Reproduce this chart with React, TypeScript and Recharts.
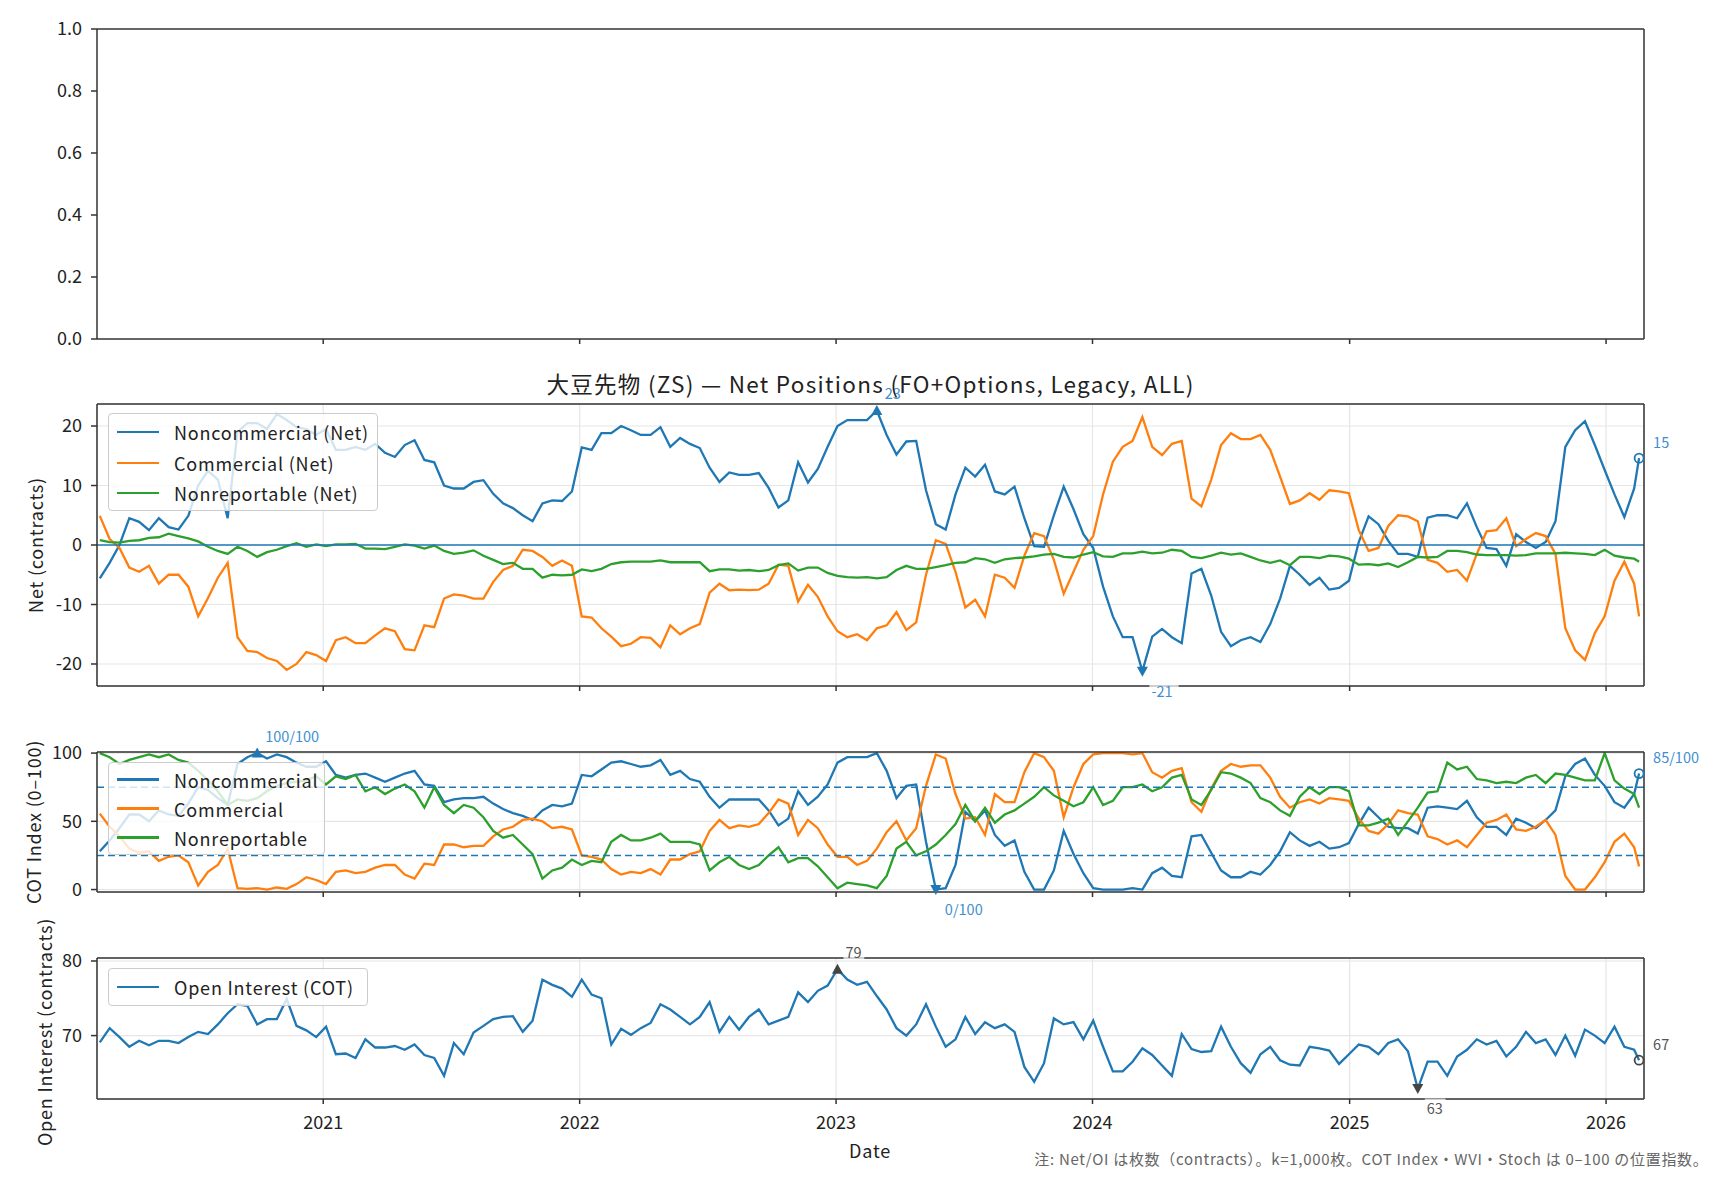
import React from 'react';
import { LineChart, Line, XAxis, YAxis, CartesianGrid, ReferenceLine, ReferenceDot } from 'recharts';

const FONT = "'Noto Sans CJK JP', 'Noto Sans', sans-serif";
const BLUE = '#1f77b4';
const ORANGE = '#ff7f0e';
const GREEN = '#2ca02c';
const LABEL_BLUE = '#3f8fd0';
const DARK = '#444444';
const LW = 2.3;

const DAY = 86400000;
const START = Date.UTC(2020, 1, 18);
const LAST_DATE = Date.UTC(2026, 1, 17);
const DATES = [...Array.from({ length: 157 }, (_, i) => START + i * 14 * DAY), LAST_DATE];
const X_DOMAIN = [Date.UTC(2020, 1, 14), Date.UTC(2026, 1, 24)];
const YEARS = [2021, 2022, 2023, 2024, 2025, 2026];
const YEAR_TICKS = YEARS.map((y) => Date.UTC(y, 0, 1));

// Net positions (k contracts)
const NC_NET = [
  -5.6, -3.0, 0.0, 4.5, 3.9, 2.5, 4.5, 3.0, 2.6, 4.9,
  10.0, 12.5, 11.0, 4.5, 19.0, 20.5, 20.5, 19.5, 22.0, 21.0,
  19.8, 19.5, 18.5, 19.5, 16.0, 16.0, 16.5, 16.0, 17.0, 15.5,
  14.8, 16.8, 17.6, 14.3, 13.9, 10.0, 9.5, 9.5, 10.6, 10.9,
  8.6, 7.0, 6.2, 5.0, 4.0, 7.0, 7.5, 7.4, 9.0, 16.4,
  16.0, 18.8, 18.8, 20.0, 19.3, 18.5, 18.5, 19.8, 16.5, 18.0,
  17.0, 16.3, 13.0, 10.6, 12.2, 11.8, 11.8, 12.1, 9.6, 6.3,
  7.5, 13.9, 10.5, 12.8, 16.5, 20.0, 21.0, 21.0, 21.0, 22.6,
  18.5, 15.2, 17.4, 17.5, 9.2, 3.5, 2.6, 8.5, 13.0, 11.5,
  13.5, 9.0, 8.5, 9.8, 4.5, -0.2, -0.3, 5.0, 9.8, 6.0,
  1.8, -0.5, -7.0, -12.0, -15.5, -15.5, -21.2, -15.4, -14.1, -15.5,
  -16.5, -4.8, -4.0, -8.5, -14.6, -17.0, -16.0, -15.5, -16.3, -13.3,
  -9.0, -3.5, -5.0, -6.7, -5.5, -7.5, -7.2, -6.0, 0.5, 4.8,
  3.5, 0.7, -1.5, -1.5, -2.0, 4.6, 5.0, 5.0, 4.5, 7.0,
  3.0, -0.5, -0.7, -3.5, 1.8, 0.5, -0.5, 0.5, 4.0, 16.5,
  19.3, 20.8, 16.8, 12.6, 8.5, 4.7, 9.5, 14.6,
];
const CM_NET = [
  4.9, 1.0, -0.5, -3.8, -4.5, -3.5, -6.5, -5.0, -5.0, -7.0,
  -12.0, -8.9, -5.5, -3.0, -15.5, -17.8, -18.0, -19.0, -19.5, -21.0,
  -20.0, -18.0, -18.5, -19.5, -16.0, -15.5, -16.5, -16.5, -15.2, -14.0,
  -14.5, -17.5, -17.7, -13.5, -13.8, -9.0, -8.3, -8.5, -9.0, -9.0,
  -6.2, -4.2, -3.5, -0.8, -1.0, -2.0, -3.5, -2.6, -3.5, -12.0,
  -12.2, -14.0, -15.4, -17.0, -16.6, -15.5, -15.6, -17.2, -13.5, -15.0,
  -14.0, -13.3, -8.0, -6.5, -7.6, -7.5, -7.6, -7.5, -6.5, -3.3,
  -3.5, -9.5, -6.7, -8.7, -12.0, -14.5, -15.5, -15.0, -16.0, -14.0,
  -13.5, -11.3, -14.3, -13.0, -5.0, 0.8, 0.2, -4.5, -10.5, -9.2,
  -12.0, -5.0, -5.5, -7.2, -1.8, 2.0, 1.5, -2.5, -8.2, -4.5,
  -0.8, 1.5, 8.5, 14.0, 16.5, 17.5, 21.5, 16.5, 15.1, 17.0,
  17.5, 7.8, 6.5, 11.0, 16.8, 18.8, 17.8, 17.8, 18.5, 16.0,
  11.5, 6.9, 7.5, 8.7, 7.6, 9.2, 9.0, 8.7, 2.5, -1.0,
  -0.5, 3.2, 5.0, 4.8, 4.0, -2.5, -3.0, -4.5, -4.2, -6.0,
  -1.5, 2.3, 2.5, 4.5, -0.2, 1.0, 2.0, 1.5, -1.5, -14.0,
  -17.7, -19.3, -14.8, -12.0, -6.0, -2.8, -6.5, -12.0,
];
const NR_NET = [
  0.8, 0.5, 0.4, 0.7, 0.8, 1.2, 1.3, 1.9, 1.5, 1.1,
  0.6, -0.3, -1.0, -1.5, -0.3, -1.0, -2.0, -1.2, -0.8, -0.2,
  0.3, -0.3, 0.1, -0.2, 0.1, 0.1, 0.2, -0.6, -0.6, -0.7,
  -0.3, 0.1, -0.1, -0.6, -0.1, -1.0, -1.5, -1.3, -0.9, -1.8,
  -2.5, -3.2, -3.0, -4.0, -4.0, -5.5, -5.0, -5.1, -5.0, -4.1,
  -4.4, -4.0, -3.2, -2.9, -2.8, -2.8, -2.8, -2.6, -2.9, -2.9,
  -2.9, -2.9, -4.4, -4.1, -4.1, -4.3, -4.2, -4.4, -4.2, -3.4,
  -3.1, -4.3, -3.8, -3.8, -4.7, -5.2, -5.4, -5.5, -5.4, -5.6,
  -5.4, -4.2, -3.5, -4.0, -4.0, -3.7, -3.4, -3.0, -2.9, -2.2,
  -2.4, -3.0, -2.4, -2.2, -2.1, -1.9, -1.6, -1.5, -2.0, -2.1,
  -1.6, -1.2, -1.9, -2.0, -1.4, -1.4, -1.1, -1.4, -1.3, -0.8,
  -1.0, -2.0, -2.2, -1.8, -1.3, -1.6, -1.4, -2.0, -2.6, -3.0,
  -2.6, -3.4, -2.0, -2.0, -2.2, -1.8, -1.9, -2.3, -3.3, -3.2,
  -3.4, -3.1, -3.7, -2.9, -2.0, -2.1, -2.0, -1.0, -1.0, -1.2,
  -1.6, -1.7, -1.7, -1.7, -1.8, -1.7, -1.4, -1.4, -1.4, -1.3,
  -1.4, -1.5, -1.7, -0.8, -1.8, -2.1, -2.3, -2.8,
];

// COT Index (0-100)
const NC_IDX = [
  28, 36, 45, 55, 55, 50, 58, 55, 54, 63,
  75, 73, 67, 62, 92, 97, 100, 96, 99, 97,
  93, 90, 90, 94, 84, 82, 84, 85, 82, 79,
  82, 85, 87, 77, 76, 64, 66, 67, 67, 68,
  63, 59, 56, 54, 51, 58, 62, 61, 63, 84,
  83, 88, 93, 94, 92, 90, 91, 95, 84, 87,
  81, 79, 68, 60, 66, 66, 66, 66, 58, 47,
  52, 72, 62, 68, 77, 93, 97, 97, 97, 100,
  87, 67, 76, 77, 35, 0, 1, 18, 57, 50,
  58, 40, 32, 36, 13, 0, 0, 14, 43, 26,
  12, 1, 0, 0, 0, 1, 0, 12, 16, 10,
  9, 39, 40, 27, 14, 9, 9, 13, 11, 18,
  28, 42, 36, 32, 35, 30, 31, 34, 48, 60,
  53, 46, 45, 45, 41, 60, 61, 60, 59, 65,
  53, 46, 46, 40, 52, 49, 45, 51, 58, 83,
  92, 96, 84, 76, 64, 60, 70, 85,
];
const CM_IDX = [
  55.6, 46, 39, 30, 27, 28, 21, 24, 25, 20,
  3, 13, 18, 30, 1, 0.5, 1, 0, 1.5, 0.5,
  4, 9, 7, 4, 13, 14, 12, 13, 16, 18,
  18, 11, 8, 19, 18, 33, 33, 31, 32, 32,
  39, 44, 46, 51, 52, 50, 45, 46, 44, 25,
  24, 22, 15, 11, 13, 12, 15, 11, 22, 22,
  26, 28, 43, 51, 45, 47, 46, 48, 56, 66,
  63, 40, 51, 45, 33, 24, 24, 18, 21, 30,
  42, 50, 36, 45, 76, 99, 96, 70, 52, 53,
  40, 70, 64, 64, 86, 100, 97, 87, 53, 75,
  92, 99, 100, 100, 100, 99, 100, 86, 82, 87,
  89, 64, 57, 74, 87, 92, 90, 91, 91, 82,
  68, 60, 64, 66, 63, 67, 66, 65, 52, 43,
  41, 48, 58, 56, 55, 39, 37, 33, 36, 31,
  40, 49, 51, 55, 44, 43, 46, 51, 40, 10,
  0, 0, 9, 20, 35, 41, 31, 17,
];
const NR_IDX = [
  100, 97, 92, 95, 97, 99, 97, 99, 95, 93,
  87, 80, 72, 62, 66, 65, 67, 72, 76, 78,
  79, 80, 83, 77, 83, 81, 84, 72, 75, 70,
  74, 77, 72, 60, 75, 62, 56, 62, 60, 53,
  43, 38, 40, 33, 26, 8, 14, 16, 22, 18,
  21, 20, 35, 40, 36, 36, 38, 41, 35, 35,
  35, 33, 14, 20, 24, 18, 15, 18, 25, 31,
  20, 23, 23, 17, 9, 1, 5, 4, 3, 1,
  10, 30, 35, 25, 28, 33, 40, 48, 62, 50,
  60, 49, 55, 58, 63, 68, 75, 69, 65, 61,
  64, 75, 62, 65, 75, 75, 77, 72, 75, 82,
  84, 66, 62, 73, 86, 85, 82, 78, 67, 64,
  58, 54, 68, 75, 70, 75, 75, 72, 47, 47,
  49, 52, 40, 50, 60, 71, 72, 93, 88, 90,
  81, 80, 78, 79, 78, 82, 84, 78, 85, 84,
  82, 80, 80, 100, 80, 74, 70, 60,
];

// Open interest (k contracts)
const OI = [
  69.1, 71.0, 69.8, 68.5, 69.3, 68.7, 69.3, 69.3, 69.0, 69.8,
  70.5, 70.2, 71.5, 73.0, 74.2, 74.0, 71.5, 72.2, 72.2, 74.9,
  71.3, 70.7, 69.8, 71.2, 67.5, 67.6, 67.0, 69.5, 68.4, 68.4,
  68.6, 68.1, 68.8, 67.4, 67.0, 64.6, 69.0, 67.5, 70.4, 71.3,
  72.2, 72.5, 72.6, 70.5, 72.0, 77.5, 76.8, 76.3, 75.2, 77.5,
  75.5, 75.0, 68.8, 70.9, 70.1, 71.0, 71.7, 74.2, 73.5, 72.5,
  71.5, 72.5, 74.5, 70.5, 72.5, 70.8, 72.5, 73.5, 71.5, 72.0,
  72.5, 75.8, 74.5, 76.0, 76.7, 78.9, 77.5, 76.8, 77.2, 75.3,
  73.5, 71.0, 70.0, 71.5, 74.2, 71.2, 68.5, 69.5, 72.5, 70.2,
  71.8, 71.0, 71.5, 70.5, 65.8, 63.8, 66.3, 72.3, 71.5, 71.8,
  69.5, 72.0, 68.5, 65.2, 65.2, 66.5, 68.3, 67.4, 66.0, 64.6,
  70.2, 68.2, 67.8, 67.9, 71.2, 68.5, 66.3, 65.0, 67.5, 68.5,
  66.7, 66.1, 66.0, 68.5, 68.3, 68.0, 66.2, 67.5, 68.8, 68.5,
  67.5, 69.0, 69.5, 67.9, 62.9, 66.5, 66.5, 64.6, 67.2, 68.1,
  69.5, 68.8, 69.3, 67.2, 68.5, 70.5, 69.0, 69.5, 67.4, 70.0,
  67.3, 70.8, 70.0, 69.0, 71.2, 68.5, 68.1, 66.7,
];

const NET_TICKS = [-20, -10, 0, 10, 20];
const IDX_TICKS = [0, 50, 100];
const OI_TICKS = [70, 80];
const EMPTY_TICKS = [0, 0.2, 0.4, 0.6, 0.8, 1.0];

const ROWS = DATES.map((t, i) => ({
  t,
  nc: NC_NET[i],
  cm: CM_NET[i],
  nr: NR_NET[i],
  nci: NC_IDX[i],
  cmi: CM_IDX[i],
  nri: NR_IDX[i],
  oi: OI[i],
}));

const argMax = (a: number[]) => a.reduce((b, v, i) => (v > a[b] ? i : b), 0);
const argMin = (a: number[]) => a.reduce((b, v, i) => (v < a[b] ? i : b), 0);
const LAST = DATES.length - 1;

const tickStyle = { fontSize: 18, fontFamily: FONT, fill: '#222' };
const axisLine = { stroke: '#333', strokeWidth: 1.5 };
const EmptyTick = () => <g />;

type MarkProps = {
  cx?: number;
  cy?: number;
  kind: 'up' | 'down' | 'circle';
  color: string;
  text: string;
  textColor: string;
  pos: 'above' | 'below' | 'right';
};

function Mark({ cx = 0, cy = 0, kind, color, text, textColor, pos }: MarkProps) {
  const fs = 14.5;
  const w = text.length * fs * 0.58 + 4;
  let tx = cx + 8;
  let ty = cy - 18;
  if (pos === 'below') {
    tx = cx + 9;
    ty = cy + 19;
  } else if (pos === 'right') {
    tx = cx + 14;
    ty = cy - 17;
  }
  let shape;
  if (kind === 'up') {
    shape = <path d={`M${cx},${cy - 5.5}L${cx - 5.5},${cy + 4.5}L${cx + 5.5},${cy + 4.5}Z`} fill={color} />;
  } else if (kind === 'down') {
    shape = <path d={`M${cx},${cy + 5.5}L${cx - 5.5},${cy - 4.5}L${cx + 5.5},${cy - 4.5}Z`} fill={color} />;
  } else {
    shape = <circle cx={cx} cy={cy} r={4.5} fill="none" stroke={color} strokeWidth={1.8} />;
  }
  return (
    <g>
      {shape}
      <rect x={tx - 2} y={ty - 9} width={w} height={18} fill="#fff" fillOpacity={0.7} />
      <text x={tx} y={ty} dominantBaseline="central" fontSize={fs} fill={textColor} fontFamily={FONT}>
        {text}
      </text>
    </g>
  );
}

function LegendBox({
  left, top, width, height, rowH, padTop, items,
}: { left: number; top: number; width: number; height: number; rowH: number; padTop: number; items: { label: string; color: string }[] }) {
  return (
    <div
      style={{
        position: 'absolute', left, top, width, height, boxSizing: 'border-box',
        border: '1px solid #cccccc', borderRadius: 4, background: 'rgba(255,255,255,0.8)',
        paddingTop: padTop, fontFamily: FONT, fontSize: 18, color: '#222', letterSpacing: 0.8,
      }}
    >
      {items.map((it) => (
        <div key={it.label} style={{ height: rowH, display: 'flex', alignItems: 'center' }}>
          <div style={{ marginLeft: 8, width: 42, height: LW, background: it.color }} />
          <div style={{ marginLeft: 15, whiteSpace: 'nowrap', lineHeight: 1 }}>{it.label}</div>
        </div>
      ))}
    </div>
  );
}

const W = 1728;
const M_RIGHT = 84;
const YW = 97;

function xAxisProps(showLabels: boolean, height: number) {
  return {
    dataKey: 't',
    type: 'number' as const,
    domain: X_DOMAIN,
    ticks: YEAR_TICKS,
    allowDataOverflow: true,
    tick: showLabels ? tickStyle : EmptyTick,
    tickFormatter: (v: number) => String(new Date(v).getUTCFullYear()),
    tickSize: 5,
    tickMargin: 12,
    height,
    axisLine,
    tickLine: axisLine,
  };
}

export default function App() {
  const ncMax = argMax(NC_NET);
  const ncMin = argMin(NC_NET);
  const idxMax = argMax(NC_IDX);
  const idxMin = argMin(NC_IDX);
  const oiMax = argMax(OI);
  const oiMin = argMin(OI);

  return (
    <div style={{ position: 'absolute', left: 0, top: 0, width: W, height: 1180, background: '#fff', overflow: 'hidden' }}>
      {/* Panel 1: empty axes */}
      <div style={{ position: 'absolute', left: 0, top: 0 }}>
        <LineChart width={W} height={369} data={ROWS} margin={{ top: 29, right: M_RIGHT, bottom: 20, left: 0 }}>
          <XAxis {...xAxisProps(false, 10)} />
          <YAxis
            type="number" domain={[0, 1]} ticks={EMPTY_TICKS} allowDataOverflow width={YW}
            tickFormatter={(v: number) => v.toFixed(1)} tick={tickStyle} tickSize={6} tickMargin={9}
            axisLine={axisLine} tickLine={axisLine}
          />
          <ReferenceLine y={1} stroke="#333" strokeWidth={1.5} />
          <ReferenceLine x={X_DOMAIN[1]} stroke="#333" strokeWidth={1.5} />
        </LineChart>
      </div>

      {/* Panel 2: Net positions */}
      <div style={{ position: 'absolute', left: 0, top: 364 }}>
        <LineChart width={W} height={352} data={ROWS} margin={{ top: 40, right: M_RIGHT, bottom: 20, left: 0 }}>
          <CartesianGrid stroke="#e6e6e6" strokeWidth={1.2} />
          <XAxis {...xAxisProps(false, 10)} />
          <YAxis
            type="number" domain={[-23.7, 23.7]} ticks={NET_TICKS} allowDataOverflow width={YW}
            tick={tickStyle} tickSize={6} tickMargin={9} axisLine={axisLine} tickLine={axisLine}
          />
          <Line type="linear" dataKey="nc" stroke={BLUE} strokeWidth={LW} dot={false} isAnimationActive={false} />
          <Line type="linear" dataKey="cm" stroke={ORANGE} strokeWidth={LW} dot={false} isAnimationActive={false} />
          <Line type="linear" dataKey="nr" stroke={GREEN} strokeWidth={LW} dot={false} isAnimationActive={false} />
          <ReferenceLine y={0} stroke={BLUE} strokeWidth={1.5} />
          <ReferenceLine y={23.7} stroke="#333" strokeWidth={1.5} />
          <ReferenceLine x={X_DOMAIN[1]} stroke="#333" strokeWidth={1.5} />
          <ReferenceDot x={DATES[ncMax]} y={NC_NET[ncMax]} r={5}
            shape={(p: any) => <Mark cx={p.cx} cy={p.cy} kind="up" color={BLUE} textColor={LABEL_BLUE} pos="above" text={String(Math.round(NC_NET[ncMax]))} />} />
          <ReferenceDot x={DATES[ncMin]} y={NC_NET[ncMin]} r={5}
            shape={(p: any) => <Mark cx={p.cx} cy={p.cy} kind="down" color={BLUE} textColor={LABEL_BLUE} pos="below" text={String(Math.round(NC_NET[ncMin]))} />} />
          <ReferenceDot x={DATES[LAST]} y={NC_NET[LAST]} r={5}
            shape={(p: any) => <Mark cx={p.cx} cy={p.cy} kind="circle" color={BLUE} textColor={LABEL_BLUE} pos="right" text={String(Math.round(NC_NET[LAST]))} />} />
        </LineChart>
      </div>

      {/* Panel 3: COT index */}
      <div style={{ position: 'absolute', left: 0, top: 712 }}>
        <LineChart width={W} height={215} data={ROWS} margin={{ top: 40, right: M_RIGHT, bottom: 25, left: 0 }}>
          <CartesianGrid stroke="#e6e6e6" strokeWidth={1.2} />
          <XAxis {...xAxisProps(false, 10)} />
          <YAxis
            type="number" domain={[-1.8, 100.8]} ticks={IDX_TICKS} allowDataOverflow width={YW}
            tick={tickStyle} tickSize={6} tickMargin={9} axisLine={axisLine} tickLine={axisLine}
          />
          <Line type="linear" dataKey="nci" stroke={BLUE} strokeWidth={LW} dot={false} isAnimationActive={false} />
          <Line type="linear" dataKey="cmi" stroke={ORANGE} strokeWidth={LW} dot={false} isAnimationActive={false} />
          <Line type="linear" dataKey="nri" stroke={GREEN} strokeWidth={LW} dot={false} isAnimationActive={false} />
          <ReferenceLine y={75} stroke={BLUE} strokeWidth={1.5} strokeDasharray="7 4" />
          <ReferenceLine y={25} stroke={BLUE} strokeWidth={1.5} strokeDasharray="7 4" />
          <ReferenceLine y={100.8} stroke="#333" strokeWidth={1.5} />
          <ReferenceLine x={X_DOMAIN[1]} stroke="#333" strokeWidth={1.5} />
          <ReferenceDot x={DATES[idxMax]} y={NC_IDX[idxMax]} r={5}
            shape={(p: any) => <Mark cx={p.cx} cy={p.cy} kind="up" color={BLUE} textColor={LABEL_BLUE} pos="above" text={`${Math.round(NC_IDX[idxMax])}/100`} />} />
          <ReferenceDot x={DATES[idxMin]} y={NC_IDX[idxMin]} r={5}
            shape={(p: any) => <Mark cx={p.cx} cy={p.cy} kind="down" color={BLUE} textColor={LABEL_BLUE} pos="below" text={`${Math.round(NC_IDX[idxMin])}/100`} />} />
          <ReferenceDot x={DATES[LAST]} y={NC_IDX[LAST]} r={5}
            shape={(p: any) => <Mark cx={p.cx} cy={p.cy} kind="circle" color={BLUE} textColor={LABEL_BLUE} pos="right" text={`${Math.round(NC_IDX[LAST])}/100`} />} />
        </LineChart>
      </div>

      {/* Panel 4: Open interest */}
      <div style={{ position: 'absolute', left: 0, top: 928 }}>
        <LineChart width={W} height={211} data={ROWS} margin={{ top: 30, right: M_RIGHT, bottom: 0, left: 0 }}>
          <CartesianGrid stroke="#e6e6e6" strokeWidth={1.2} />
          <XAxis {...xAxisProps(true, 40)} />
          <YAxis
            type="number" domain={[61.5, 80.4]} ticks={OI_TICKS} allowDataOverflow width={YW}
            tick={tickStyle} tickSize={6} tickMargin={9} axisLine={axisLine} tickLine={axisLine}
          />
          <Line type="linear" dataKey="oi" stroke={BLUE} strokeWidth={LW} dot={false} isAnimationActive={false} />
          <ReferenceLine y={80.4} stroke="#333" strokeWidth={1.5} />
          <ReferenceLine x={X_DOMAIN[1]} stroke="#333" strokeWidth={1.5} />
          <ReferenceDot x={DATES[oiMax]} y={OI[oiMax]} r={5}
            shape={(p: any) => <Mark cx={p.cx} cy={p.cy} kind="up" color={DARK} textColor="#555" pos="above" text={String(Math.round(OI[oiMax]))} />} />
          <ReferenceDot x={DATES[oiMin]} y={OI[oiMin]} r={5}
            shape={(p: any) => <Mark cx={p.cx} cy={p.cy} kind="down" color={DARK} textColor="#555" pos="below" text={String(Math.round(OI[oiMin]))} />} />
          <ReferenceDot x={DATES[LAST]} y={OI[LAST]} r={5}
            shape={(p: any) => <Mark cx={p.cx} cy={p.cy} kind="circle" color={DARK} textColor="#555" pos="right" text={String(Math.round(OI[LAST]))} />} />
        </LineChart>
      </div>

      {/* Legends */}
      <LegendBox left={108} top={413} width={270} height={98} rowH={30.5} padTop={3}
        items={[
          { label: 'Noncommercial (Net)', color: BLUE },
          { label: 'Commercial (Net)', color: ORANGE },
          { label: 'Nonreportable (Net)', color: GREEN },
        ]} />
      <LegendBox left={108} top={762} width={217} height={93} rowH={29} padTop={2}
        items={[
          { label: 'Noncommercial', color: BLUE },
          { label: 'Commercial', color: ORANGE },
          { label: 'Nonreportable', color: GREEN },
        ]} />
      <LegendBox left={108} top={968} width={260} height={38} rowH={36} padTop={0}
        items={[{ label: 'Open Interest (COT)', color: BLUE }]} />

      {/* Title and axis labels */}
      <div style={{ position: 'absolute', left: 370.5, width: 1000, top: 368, lineHeight: '30px', textAlign: 'center', fontFamily: FONT, fontSize: 22.5, letterSpacing: 1.3, color: '#222', whiteSpace: 'nowrap' }}>
        大豆先物 (ZS) — Net Positions (FO+Options, Legacy, ALL)
      </div>
      <div style={{ position: 'absolute', left: 35, top: 545, transform: 'translate(-50%,-50%) rotate(-90deg)', fontFamily: FONT, fontSize: 18, letterSpacing: 0.8, color: '#222', whiteSpace: 'nowrap', lineHeight: 1 }}>
        Net (contracts)
      </div>
      <div style={{ position: 'absolute', left: 33, top: 822, transform: 'translate(-50%,-50%) rotate(-90deg)', fontFamily: FONT, fontSize: 18, letterSpacing: 0.8, color: '#222', whiteSpace: 'nowrap', lineHeight: 1 }}>
        COT Index (0–100)
      </div>
      <div style={{ position: 'absolute', left: 44, top: 1032, transform: 'translate(-50%,-50%) rotate(-90deg)', fontFamily: FONT, fontSize: 18, letterSpacing: 0.8, color: '#222', whiteSpace: 'nowrap', lineHeight: 1 }}>
        Open Interest (contracts)
      </div>
      <div style={{ position: 'absolute', left: 870, top: 1150, transform: 'translate(-50%,-50%)', fontFamily: FONT, fontSize: 18, letterSpacing: 0.8, color: '#222', whiteSpace: 'nowrap', lineHeight: 1 }}>
        Date
      </div>
      <div style={{ position: 'absolute', left: 0, width: 1708.5, top: 1149, lineHeight: '20px', textAlign: 'right', fontFamily: FONT, fontSize: 15, letterSpacing: 0.7, color: '#666', whiteSpace: 'nowrap' }}>
        注: Net/OI は枚数（contracts）。k=1,000枚。COT Index・WVI・Stoch は 0–100 の位置指数。
      </div>
    </div>
  );
}
